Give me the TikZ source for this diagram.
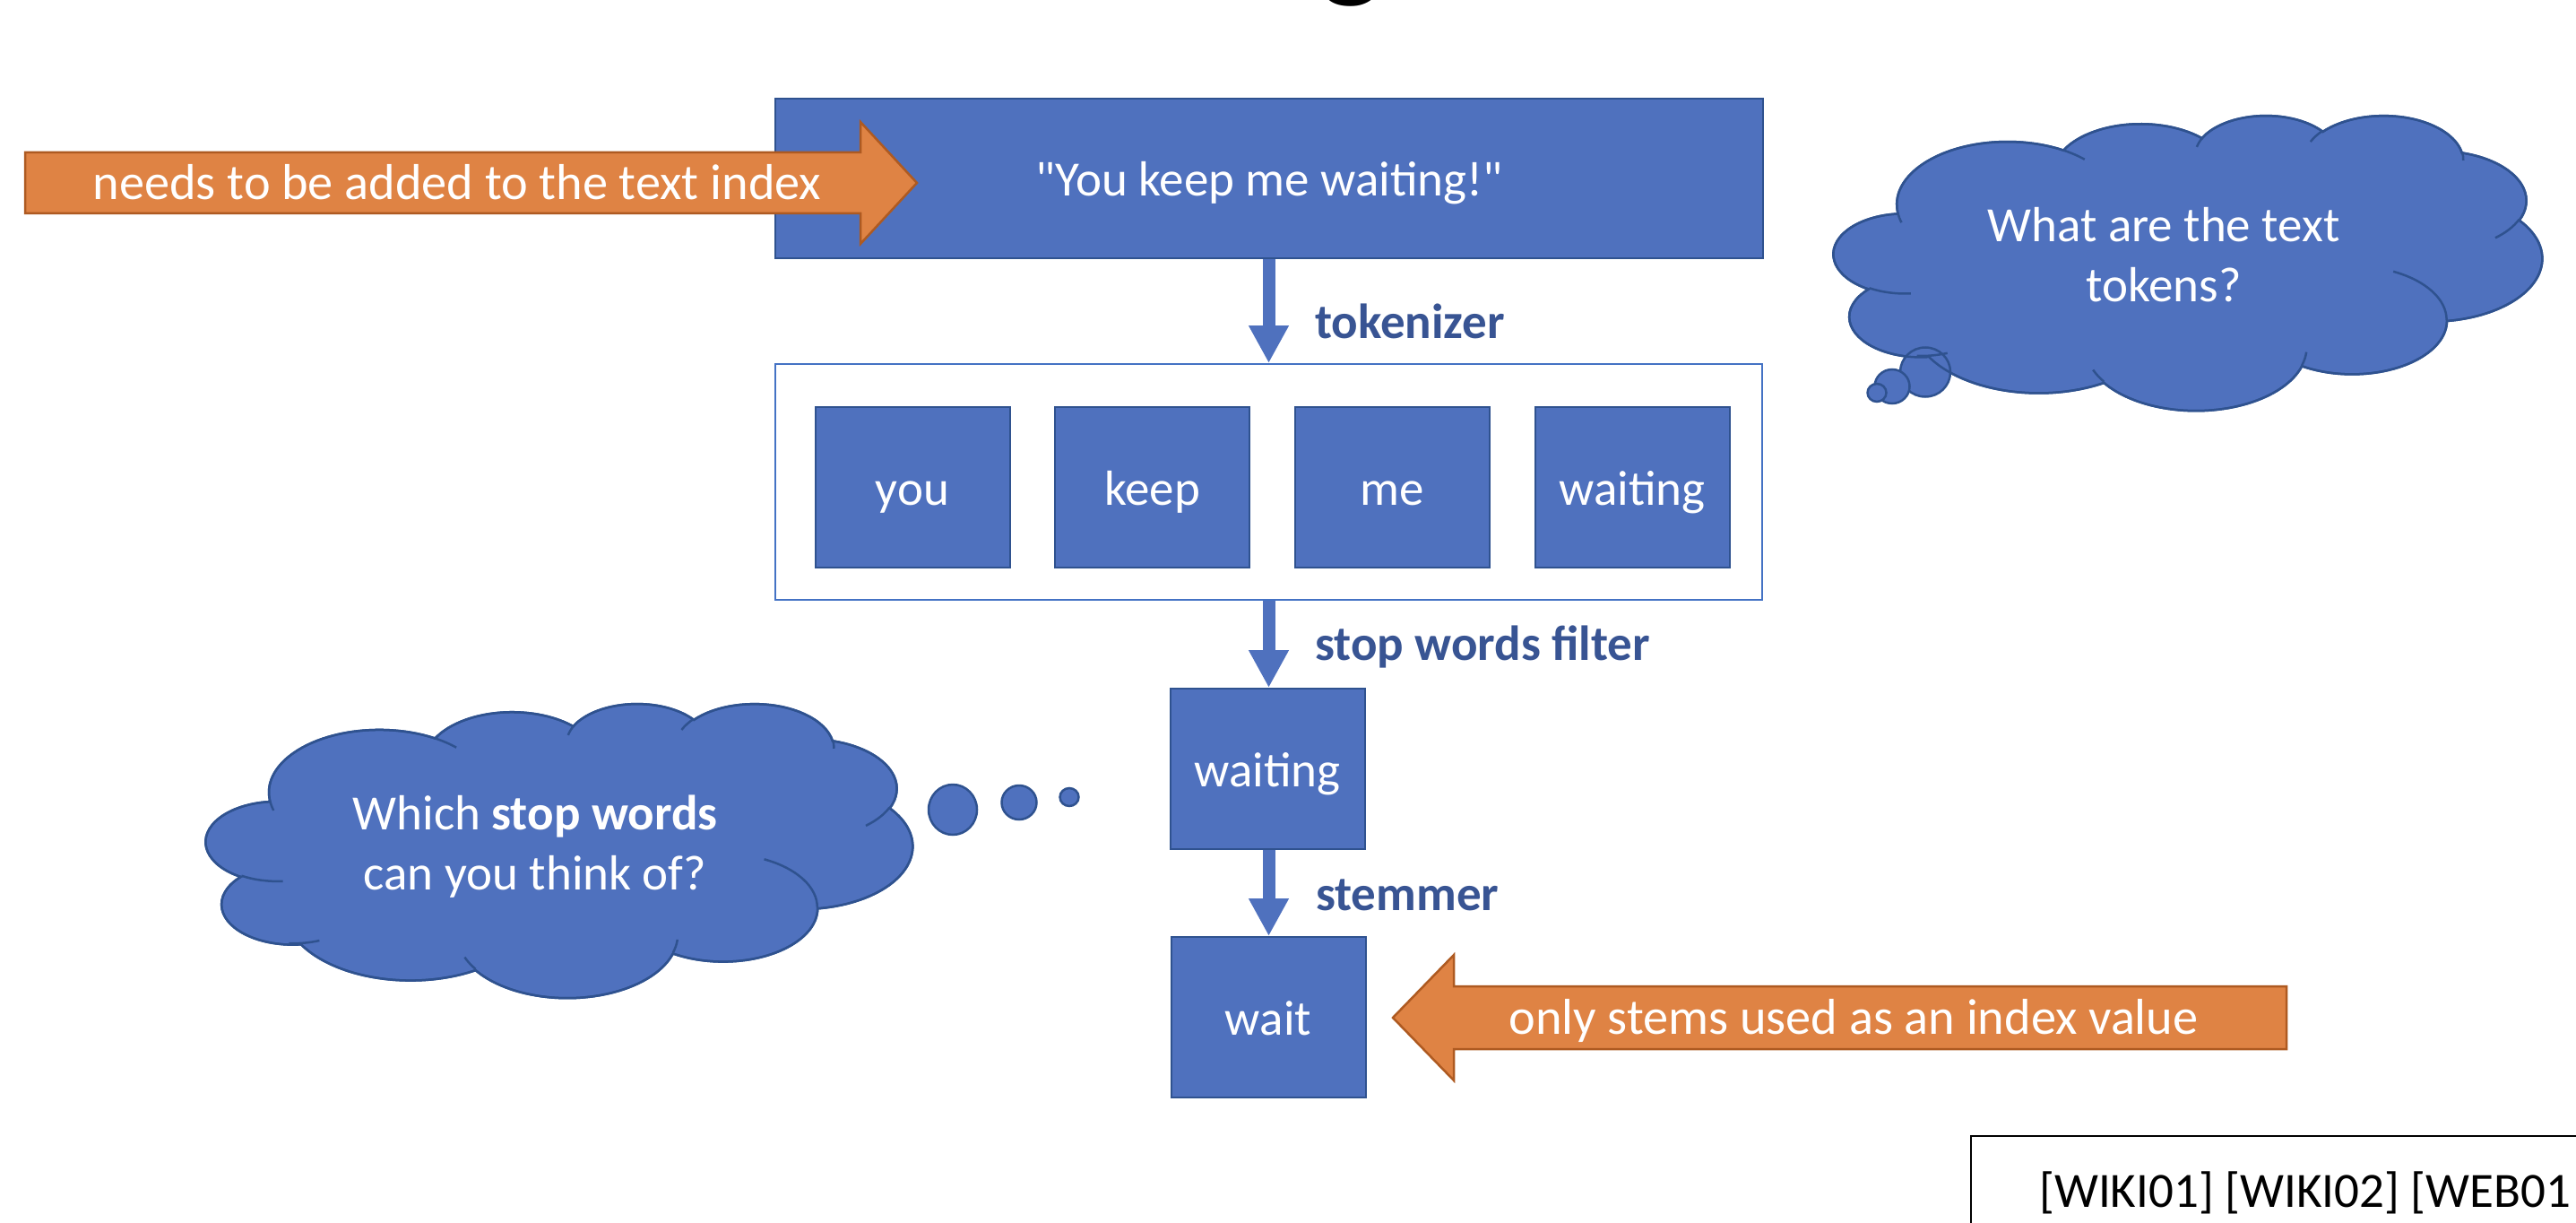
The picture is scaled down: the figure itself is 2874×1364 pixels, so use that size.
\documentclass[tikz,border=0pt]{standalone}
\usepackage{fontspec}
\newfontfamily\carlito{Carlito}
\usetikzlibrary{arrows.meta}

\definecolor{bfill}{HTML}{4F71BE}
\definecolor{bline}{HTML}{2F528F}
\definecolor{clabel}{HTML}{385493}
\definecolor{ofill}{HTML}{DF8344}
\definecolor{oline}{HTML}{AE5A21}
\definecolor{cframe}{HTML}{4472C4}

\newcommand\mybodyfont{\carlito\fontsize{55}{67}\selectfont}
\newcommand\mynotefont{\carlito\fontsize{56.3}{67}\selectfont}

% elliptical arc in the manner of DrawingML arcTo (visual angles, y down)
\newcommand\ooarc[4]{%
  \pgfmathsetmacro\oota{atan2((#1)*sin(#3),(#2)*cos(#3))}%
  \pgfmathsetmacro\ooe{(#3)+(#4)}%
  \pgfmathsetmacro\ootb{atan2((#1)*sin(\ooe),(#2)*cos(\ooe))}%
  \pgfmathsetmacro\ood{\ootb-\oota}%
  \pgfmathsetmacro\ood{\ood+360*((#4)>0)*(\ood<0)-360*((#4)<0)*(\ood>0)}%
  \pgfmathsetmacro\ooend{\oota+\ood}%
  \pgfpatharcaxes{\oota}{\ooend}{\pgfpointxy{#1}{0}}{\pgfpointxy{0}{#2}}%
}
\newcommand\oocloud{%
  \pgfpathmoveto{\pgfpointxy{390}{1437}}%
  \ooarc{675.3}{919.0}{-190.48748}{123.78053}%
  \ooarc{533.3}{726.7}{-144.10238}{89.94523}%
  \ooarc{436.5}{594.5}{-145.80792}{99.72302}%
  \ooarc{485.7}{659.5}{-130.98607}{117.24173}%
  \ooarc{533.3}{727.3}{-78.70888}{109.02692}%
  \ooarc{677.5}{922.0}{-46.26725}{130.269}%
  \ooarc{578.5}{786.7}{0.62502}{114.03333}%
  \ooarc{675.2}{921.5}{22.4516}{115.17255}%
  \ooarc{772.0}{1054.3}{66.24263}{75.71102}%
  \ooarc{436.0}{591.8}{-274.94208}{146.73557}%
  \ooarc{434.5}{594.5}{-246.8285}{152.51885}%
  \pgfpathclose}
\newcommand\oocloudlines{%
  \pgfpathmoveto{\pgfpointxy{469.3}{2617.7}}\ooarc{434.5}{594.5}{86.742}{26.4295}%
  \pgfpathmoveto{\pgfpointxy{692.8}{3489.9}}\ooarc{436.0}{591.8}{73.60305}{18.7412}%
  \pgfpathmoveto{\pgfpointxy{1647.8}{3909.0}}\ooarc{675.2}{921.5}{137.62415}{14.0811}%
  \pgfpathmoveto{\pgfpointxy{2882.7}{3475.1}}\ooarc{675.2}{921.5}{6.45327}{15.99835}%
  \pgfpathmoveto{\pgfpointxy{3412.9}{2295.4}}\ooarc{578.5}{786.7}{-70.29235}{70.91737}%
  \pgfpathmoveto{\pgfpointxy{4179.8}{1535.4}}\ooarc{533.3}{727.3}{30.31803}{27.7515}%
  \pgfpathmoveto{\pgfpointxy{3832.4}{542.6}}\ooarc{485.7}{659.5}{-13.74433}{14.8589}%
  \pgfpathmoveto{\pgfpointxy{2907.8}{395.2}}\ooarc{485.7}{659.5}{-149.18145}{18.19537}%
  \pgfpathmoveto{\pgfpointxy{2214.1}{472.0}}\ooarc{436.5}{594.5}{-163.49427}{17.68635}%
  \pgfpathmoveto{\pgfpointxy{1400.0}{519.2}}\ooarc{675.3}{919.0}{-66.70695}{12.31935}%
  \pgfpathmoveto{\pgfpointxy{412.7}{1578.9}}\ooarc{675.3}{919.0}{157.65435}{11.85817}%
}
\newcommand\drawoocloud{%
  \pgfsetfillcolor{bfill}\pgfsetstrokecolor{bline}\pgfsetlinewidth{2.5pt}%
  \oocloud\pgfusepath{fill,stroke}}
\newcommand\drawoocloudoutline{%
  \pgfsetstrokecolor{bline}\pgfsetlinewidth{2.5pt}%
  \oocloud\pgfusepath{stroke}%
  \oocloudlines\pgfusepath{stroke}}

\tikzset{
  bluebox/.style={rectangle, fill=bfill, draw=bline, line width=2pt, inner sep=0pt,
    text=white, font=\mybodyfont, text height=52pt, text depth=12pt},
  tokbox/.style={bluebox, minimum width=217pt, minimum height=179pt},
  flow/.style={draw=bfill, line width=14pt, -{Triangle[width=42pt,length=42pt]}},
  steplabel/.style={anchor=base west, inner sep=0pt, text=clabel, font=\mybodyfont\bfseries},
  orangearrow/.style={fill=ofill, draw=oline, line width=2.5pt, line join=miter},
  notetext/.style={anchor=base, inner sep=0pt, text=white, font=\mynotefont},
  cloudtext/.style={align=center, inner sep=0pt, text=white, font=\mybodyfont},
  bubble/.style={fill=bfill, draw=bline, line width=2.5pt},
}

\begin{document}
\begin{tikzpicture}[x=1pt, y=-1pt]
\useasboundingbox (0,0) rectangle (2874,1364);

% fragment of the cut-off title
\node[anchor=base, inner sep=0pt, font=\carlito\fontsize{150}{150}\selectfont] (titlefrag) at (1508,-18) {g};

% main flow
\node[bluebox, minimum width=1102pt, minimum height=178pt] (title) at (1416,199) {"You keep me waiting!"};

\node[rectangle, draw=cframe, line width=2pt, minimum width=1101pt, minimum height=263pt, inner sep=0pt] (tokens) at (1415.5,537.5) {};
\node[tokbox] (you) at (1018,543.5) {you};
\node[tokbox] (keep) at (1285.5,543.5) {keep};
\node[tokbox] (me) at (1553.5,543.5) {me};
\node[tokbox] (waitingtok) at (1821,543.5) {waiting};

\node[tokbox] (waiting) at (1414,857.5) {waiting};
\node[tokbox] (wait) at (1415,1134.5) {wait};

\draw[flow] (title.south -| tokens.north) -- (tokens.north);
\draw[flow] (tokens.south) -- (tokens.south |- waiting.north);
\draw[flow] (waiting.south -| tokens.south) -- (tokens.south |- wait.north);

\node[steplabel] (lbltok) at (1467,377) {tokenizer};
\node[steplabel] (lblstop) at (1467,736) {stop words filter};
\node[steplabel] (lblstem) at (1468,1015) {stemmer};

% orange block arrows
\draw[orangearrow] (28,170) -- (960,170) -- (960,136) -- (1023,204) -- (960,272) -- (960,238) -- (28,238) -- cycle;
\node[notetext] (addnote) at (510,223) {needs to be added to the text index};

\draw[orangearrow] (2551,1100) -- (1622,1100) -- (1622,1065) -- (1554,1135) -- (1622,1205) -- (1622,1170) -- (2551,1170) -- cycle;
\node[notetext] (stemnote) at (2068,1153) {only stems used as an index value};

% right cloud
\begin{scope}[shift={(2046,128)}, x=0.18287pt, y=-0.076157pt]
  \drawoocloud
\end{scope}
\draw[bubble] (2148,415) ellipse (28 and 27.5);
\draw[bubble] (2111,431) ellipse (19.5 and 19);
\draw[bubble] (2094,438) ellipse (10.5 and 10);
\begin{scope}[shift={(2046,128)}, x=0.18287pt, y=-0.076157pt]
  \drawoocloudoutline
\end{scope}
\node[cloudtext] (q1) at (2414,284) {What are the text\\tokens?};

% left cloud
\begin{scope}[shift={(230,784)}, x=0.18241pt, y=-0.075926pt]
  \drawoocloud
  \drawoocloudoutline
\end{scope}
\draw[bubble] (1063,903) ellipse (27 and 28);
\draw[bubble] (1137,895) ellipse (19.5 and 19);
\draw[bubble] (1193,889) ellipse (10.5 and 10);
\node[cloudtext] (q2) at (597,944.5) {Which \textbf{stop words}\\can you think of?};

% reference box
\draw[black, line width=2pt] (2199,1267) rectangle (2950,1420);
\node[anchor=base west, inner sep=0pt, font=\mybodyfont] (refs) at (2275,1346) {[WIKI01] [WIKI02] [WEB01};

\end{tikzpicture}
\end{document}
